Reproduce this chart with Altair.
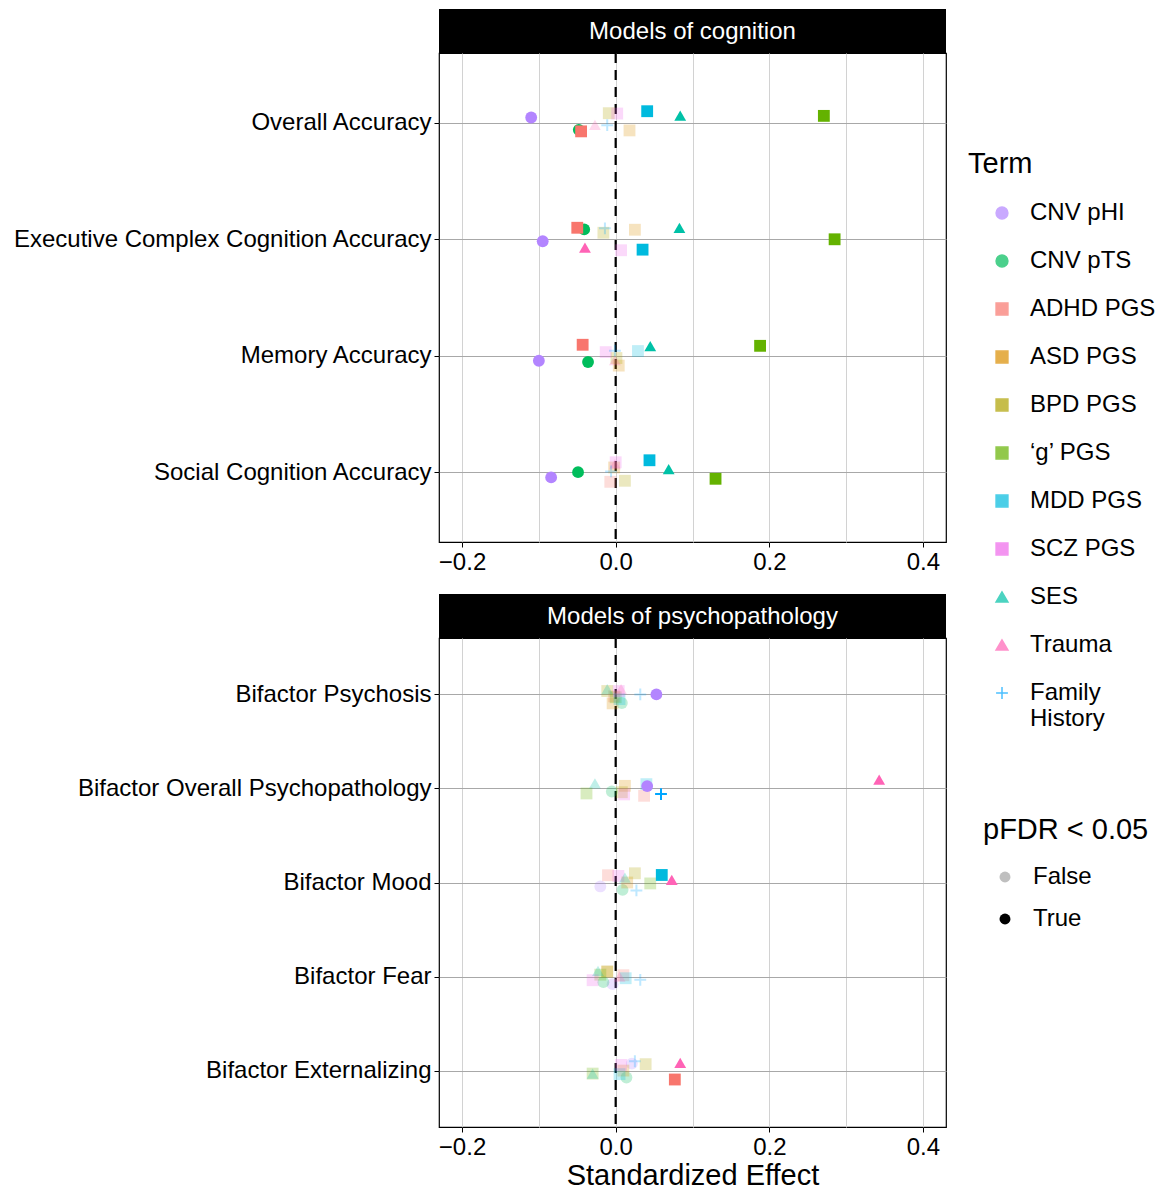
import json
import altair as alt
import pandas as pd

terms = ["CNV pHI", "CNV pTS", "ADHD PGS", "ASD PGS", "BPD PGS", "‘g’ PGS",
         "MDD PGS", "SCZ PGS", "SES", "Trauma", "Family History"]
term_colors = ["#B385FF", "#00BD5C", "#F8766D", "#DB8E00", "#AEA200", "#64B200",
               "#00BADE", "#EF67EB", "#00C1A7", "#FF63B6", "#00A6FF"]
term_shapes = ["circle", "circle", "square", "square", "square", "square",
               "square", "square", "triangle-up", "triangle-up", "M-1,0H1M0,-1V1"]
term_sizes = [140, 140, 150, 150, 150, 150, 150, 150, 250, 250, 300]

cog_outcomes = ["Overall Accuracy", "Executive Complex Cognition Accuracy",
                "Memory Accuracy", "Social Cognition Accuracy"]
psy_outcomes = ["Bifactor Psychosis", "Bifactor Overall Psychopathology",
                "Bifactor Mood", "Bifactor Fear", "Bifactor Externalizing"]

# effects, in the order of `terms`
cog_effects = [
    [-0.110, -0.048, -0.045, 0.018, -0.009, 0.271, 0.041, 0.002, 0.084, -0.027, -0.011],
    [-0.095, -0.041, -0.050, 0.025, -0.016, 0.285, 0.035, 0.007, 0.083, -0.040, -0.014],
    [-0.100, -0.036, -0.043, 0.004, 0.001, 0.188, 0.029, -0.013, 0.045, -0.001, -0.001],
    [-0.084, -0.049, -0.007, -0.002, 0.012, 0.130, 0.044, 0.000, 0.069, -0.001, -0.006],
]
cog_jitter = [
    [-0.046, 0.060, 0.073, 0.065, -0.083, -0.060, -0.100, -0.080, -0.063, 0.017, 0.020],
    [0.017, -0.085, -0.099, -0.082, -0.056, 0.000, 0.089, 0.094, -0.099, 0.071, -0.094],
    [0.043, 0.054, -0.094, 0.085, 0.020, -0.085, -0.040, -0.031, -0.083, 0.037, -0.043],
    [0.045, 0.000, 0.083, -0.040, 0.074, 0.057, -0.102, -0.085, -0.026, -0.068, -0.006],
]
cog_sig = [
    [1, 1, 1, 0, 0, 1, 1, 0, 1, 0, 0],
    [1, 1, 1, 0, 0, 1, 1, 0, 1, 1, 0],
    [1, 1, 1, 0, 0, 1, 0, 0, 1, 0, 0],
    [1, 1, 0, 0, 0, 1, 1, 0, 1, 0, 0],
]

psy_effects = [
    [0.053, 0.008, -0.002, -0.004, -0.011, 0.000, 0.005, 0.004, -0.011, 0.007, 0.032],
    [0.041, -0.005, 0.037, 0.012, 0.008, -0.038, 0.040, 0.011, -0.027, 0.343, 0.059],
    [-0.020, 0.009, -0.010, 0.015, 0.025, 0.045, 0.060, 0.0035, 0.012, 0.073, 0.027],
    [-0.004, -0.016, 0.010, -0.011, -0.011, -0.020, 0.013, -0.030, -0.023, 0.005, 0.032],
    [0.021, 0.014, 0.077, 0.010, 0.039, -0.030, 0.005, 0.007, -0.030, 0.084, 0.025],
]
psy_jitter = [
    [0.000, 0.091, 0.020, 0.095, -0.036, 0.030, 0.050, -0.036, -0.057, -0.057, 0.000],
    [-0.025, 0.032, 0.078, -0.028, 0.040, 0.053, -0.046, 0.063, -0.053, -0.095, 0.060],
    [0.042, 0.078, -0.077, 0.000, -0.098, 0.010, -0.080, -0.070, -0.053, -0.028, 0.084],
    [0.081, 0.060, -0.014, -0.053, -0.053, -0.020, 0.018, 0.039, -0.060, 0.000, 0.035],
    [-0.074, 0.074, 0.095, 0.000, -0.068, 0.032, 0.038, -0.060, 0.032, -0.081, -0.099],
]
psy_sig = [
    [1, 0, 0, 0, 0, 0, 0, 0, 0, 0, 0],
    [1, 0, 0, 0, 0, 0, 0, 0, 0, 1, 1],
    [0, 0, 0, 0, 0, 0, 1, 0, 0, 1, 0],
    [0, 0, 0, 0, 0, 0, 0, 0, 0, 0, 0],
    [0, 0, 1, 0, 0, 0, 0, 0, 0, 1, 0],
]

x_ticks = [-0.2, -0.1, 0.0, 0.1, 0.2, 0.3, 0.4]

FONT = "Liberation Sans"
W, H = 507, 489
STRIP = 44


def build_df(outcomes, effects, jitter, sig):
    rows = []
    for i, o in enumerate(outcomes):
        for j, t in enumerate(terms):
            rows.append(dict(outcome=o, ypos=i + 1 + jitter[i][j],
                             effect=effects[i][j], term=t,
                             sig="True" if sig[i][j] else "False"))
    df = pd.DataFrame(rows)
    df["order"] = (df["sig"] == "True").astype(int)
    return df.sort_values("order", kind="stable").drop(columns="order")


def x_enc(title):
    if title:
        kw = dict(title=title, titleFontSize=29, titlePadding=2)
    else:
        kw = dict(title=None)
    return alt.X(
        "effect:Q",
        scale=alt.Scale(domain=[-0.23, 0.43], nice=False, zero=False),
        axis=alt.Axis(
            values=x_ticks,
            labelExpr="round(datum.value*10) % 2 == 0 ? format(datum.value, '.1f') : ''",
            tickOpacity={"condition": {"test": "round(datum.value*10) % 2 != 0", "value": 0}, "value": 1},
            grid=True, gridColor="#d2d2d2", gridWidth=1,
            tickSize=5, labelPadding=3, labelFontSize=24, **kw),
    )


def panel(df, outcomes, strip_text, xtitle):
    n = len(outcomes)
    label_expr = "[" + ",".join(json.dumps(o) for o in outcomes) + "][round(datum.value)-1]"
    y = alt.Y("ypos:Q",
              scale=alt.Scale(domain=[0.4, n + 0.6], reverse=True, nice=False, zero=False),
              axis=alt.Axis(values=list(range(1, n + 1)), labelExpr=label_expr,
                            grid=True, gridColor="#a8a8a8", gridWidth=1,
                            title=None, tickSize=5, labelPadding=3,
                            labelFontSize=24, labelLimit=700))
    xe = x_enc(xtitle)

    zero = alt.Chart(pd.DataFrame({"effect": [0.0]})).mark_rule(
        color="black", strokeDash=[10, 7], strokeWidth=2.2
    ).encode(x=xe)

    pts = alt.Chart(df).mark_point(filled=True).encode(
        x=xe, y=y,
        color=alt.Color("term:N", title="Term",
                        scale=alt.Scale(domain=terms, range=term_colors),
                        legend=alt.Legend(
                            orient="none", legendX=529, legendY=97,
                            titleFontSize=29, titleFontWeight="normal", titleFont=FONT,
                            labelFontSize=24, labelFont=FONT, labelLimit=300,
                            symbolSize=170, symbolStrokeWidth=1.5, symbolOffset=22,
                            labelOffset=16, rowPadding=24, titlePadding=22,
                            labelExpr="datum.label == 'Family History' ? ['Family', 'History'] : datum.label")),
        shape=alt.Shape("term:N", title="Term",
                        scale=alt.Scale(domain=terms, range=term_shapes)),
        stroke=alt.Stroke("term:N", title="Term",
                          scale=alt.Scale(domain=terms, range=term_colors)),
        strokeWidth=alt.condition("datum.term == 'Family History'", alt.value(2), alt.value(0)),
        size=alt.Size("term:N", scale=alt.Scale(domain=terms, range=term_sizes), legend=None),
        opacity=alt.Opacity("sig:N", title="pFDR < 0.05",
                            scale=alt.Scale(domain=["False", "True"], range=[0.25, 1.0]),
                            legend=alt.Legend(
                                orient="none", legendX=544, legendY=763,
                                titleFontSize=29, titleFontWeight="normal", titleFont=FONT,
                                labelFontSize=24, labelFont=FONT,
                                symbolType="circle", symbolFillColor="black",
                                symbolStrokeWidth=0, symbolSize=120, symbolOffset=10,
                                labelOffset=16, rowPadding=18, titlePadding=20)),
    )

    one = pd.DataFrame({"k": [0]})
    strip_rect = alt.Chart(one).mark_rect(color="black").encode(
        x=alt.value(0), x2=alt.value(W), y=alt.value(-STRIP), y2=alt.value(0))
    strip_txt = alt.Chart(one).mark_text(
        text=strip_text, color="white", fontSize=24, font=FONT,
        align="center", baseline="middle"
    ).encode(x=alt.value(W / 2), y=alt.value(-STRIP / 2 + 1))

    return alt.layer(zero, pts, strip_rect, strip_txt).properties(width=W, height=H)


cog_df = build_df(cog_outcomes, cog_effects, cog_jitter, cog_sig)
psy_df = build_df(psy_outcomes, psy_effects, psy_jitter, psy_sig)

top = panel(cog_df, cog_outcomes, "Models of cognition", None)
bottom = panel(psy_df, psy_outcomes, "Models of psychopathology", "Standardized Effect")

chart = alt.vconcat(top, bottom, spacing=18).properties(
    padding={"left": 3, "top": 0, "right": 0, "bottom": 0}
).configure(font=FONT).configure_view(
    stroke="black", strokeWidth=1.2
).configure_axis(
    labelFont=FONT, titleFont=FONT, labelColor="black", titleColor="black",
    tickColor="black", tickWidth=1, domain=False, titleFontWeight="normal"
)

chart.save("out.html", embed_options={"renderer": "svg", "actions": False})
